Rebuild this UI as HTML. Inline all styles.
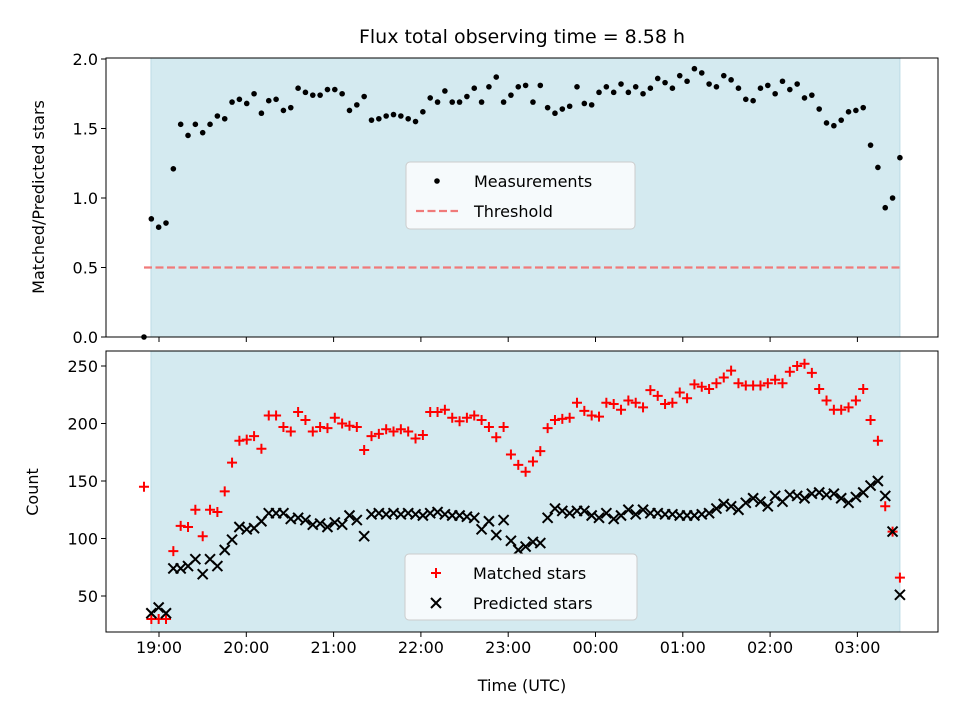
<!DOCTYPE html>
<html><head><meta charset="utf-8"><style>
body{margin:0;background:#fff}
svg{display:block;font-family:"DejaVu Sans","Liberation Sans",sans-serif}
</style></head><body>
<svg id="c" width="960" height="720" viewBox="0 0 960 720"></svg>
<script>
const ratio=[0.0,0.85,0.79,0.82,1.21,1.53,1.45,1.53,1.47,1.53,1.59,1.57,1.69,1.71,1.68,1.75,1.61,1.70,1.71,1.63,1.65,1.79,1.76,1.74,1.74,1.78,1.78,1.75,1.63,1.67,1.73,1.56,1.57,1.59,1.60,1.59,1.57,1.55,1.62,1.72,1.69,1.77,1.69,1.69,1.73,1.79,1.69,1.80,1.87,1.69,1.74,1.80,1.81,1.69,1.81,1.65,1.61,1.64,1.66,1.80,1.68,1.67,1.76,1.80,1.76,1.82,1.76,1.80,1.75,1.79,1.86,1.83,1.79,1.88,1.84,1.93,1.90,1.82,1.80,1.88,1.85,1.79,1.71,1.70,1.79,1.81,1.75,1.84,1.78,1.82,1.72,1.74,1.64,1.54,1.52,1.56,1.62,1.63,1.65,1.38,1.22,0.93,1.00,1.29];
const matched=[145,30,30,30,89,111,110,125,102,125,123,141,166,185,186,189,178,207,207,197,193,210,203,193,197,196,205,200,198,197,177,189,191,195,193,195,193,187,190,210,210,212,205,202,205,207,203,197,188,197,173,164,158,167,176,196,203,204,205,218,211,207,206,218,217,212,220,218,214,229,224,217,218,227,222,234,232,230,235,240,246,235,233,233,233,235,238,235,245,250,252,244,230,220,212,212,214,220,230,203,185,128,106,66];
const predicted=[null,35,40,35,74,74,76,82,69,82,76,90,99,110,108,109,115,122,122,122,117,118,116,112,113,110,114,112,120,116,102,121,122,121,122,121,122,121,120,122,123,121,120,120,119,118,108,115,103,116,98,90,93,97,96,118,126,124,122,124,124,120,118,122,117,120,125,121,125,122,122,121,121,120,120,120,121,122,126,130,128,125,131,135,132,128,137,132,138,137,135,139,140,138,139,135,131,136,140,146,150,137,106,51];
const tickLabels=["19:00","20:00","21:00","22:00","23:00","00:00","01:00","02:00","03:00"];
const ratioTicks=[0.0,0.5,1.0,1.5,2.0];
const countTicks=[50,100,150,200,250];
const threshold=0.5;
const tStart=-0.172, tEnd=8.487, shadeStart=-0.092, shadeEnd=8.487;
const N=ratio.length;
const times=ratio.map((_,i)=>tStart+i*(tEnd-tStart)/(N-1));
const X=t=>159+t*87.3;
const Y1=v=>337-v*139;
const Y2=v=>596-(v-50)*1.15;
const svg=document.getElementById('c');
const NS='http://www.w3.org/2000/svg';
function mk(tag,attrs,parent,name){const e=document.createElementNS(NS,tag);for(const k in attrs)e.setAttribute(k,attrs[k]);


(parent||svg).appendChild(e);return e;}
function txt(s,attrs,name){const e=mk('text',attrs,svg,name);e.textContent=s;return e;}
const A1={x:106,y:58,w:832,h:279}, A2={x:106,y:351,w:832,h:281};
[[A1,'top'],[A2,'bottom']].forEach(([a,n])=>{
 mk('rect',{x:a.x,y:a.y,width:a.w,height:a.h,fill:'#fff'},svg,n+'-axes-bg');
 mk('rect',{x:X(shadeStart),y:a.y,width:X(shadeEnd)-X(shadeStart),height:a.h,fill:'#d4eaf0',stroke:'#bcdbe6'},svg,n+'-observing-window');
});
mk('line',{x1:X(tStart),x2:X(tEnd),y1:Y1(threshold),y2:Y1(threshold),stroke:'#f07a7a','stroke-width':2.2,'stroke-dasharray':'8,3.5'},svg,'threshold-line');
times.forEach((t,i)=>mk('circle',{cx:X(t),cy:Y1(ratio[i]),r:2.8,fill:'#000'},svg,'measurement-point'));
times.forEach((t,i)=>{const x=X(t),y=Y2(matched[i]);mk('path',{d:`M${x-5},${y}H${x+5}M${x},${y-5}V${y+5}`,stroke:'#f00','stroke-width':2},svg,'matched-marker');});
times.forEach((t,i)=>{if(predicted[i]==null)return;const x=X(t),y=Y2(predicted[i]);mk('path',{d:`M${x-5},${y-5}L${x+5},${y+5}M${x-5},${y+5}L${x+5},${y-5}`,stroke:'#000','stroke-width':2},svg,'predicted-marker');});
[[A1,'top'],[A2,'bottom']].forEach(([a,n])=>mk('rect',{x:a.x,y:a.y,width:a.w,height:a.h,fill:'none',stroke:'#000','stroke-width':1},svg,n+'-axes-frame'));
tickLabels.forEach((l,k)=>{const x=X(k);
 mk('line',{x1:x,x2:x,y1:A1.y+A1.h,y2:A1.y+A1.h+5,stroke:'#000'},svg,'top-x-tick');
 mk('line',{x1:x,x2:x,y1:A2.y+A2.h,y2:A2.y+A2.h+5,stroke:'#000'},svg,'x-tick');
 txt(l,{x:x,y:A2.y+A2.h+21,'font-size':16,'text-anchor':'middle'},'x-tick-label');});
ratioTicks.forEach(v=>{const y=Y1(v);mk('line',{x1:A1.x-5,x2:A1.x,y1:y,y2:y,stroke:'#000'},svg,'top-y-tick');
 txt(v.toFixed(1),{x:A1.x-8,y:y+6,'font-size':16,'text-anchor':'end'},'top-y-tick-label');});
countTicks.forEach(v=>{const y=Y2(v);mk('line',{x1:A2.x-5,x2:A2.x,y1:y,y2:y,stroke:'#000'},svg,'bottom-y-tick');
 txt(String(v),{x:A2.x-8,y:y+6,'font-size':16,'text-anchor':'end'},'bottom-y-tick-label');});
txt('Flux total observing time = 8.58 h',{x:522,y:43,'font-size':19,'text-anchor':'middle'},'chart-title');
txt('Time (UTC)',{x:522,y:691,'font-size':16,'text-anchor':'middle'},'x-axis-title');
txt('Matched/Predicted stars',{x:44,y:197,'font-size':16,'text-anchor':'middle',transform:'rotate(-90 44 197)'},'top-y-axis-title');
txt('Count',{x:38,y:492,'font-size':16,'text-anchor':'middle',transform:'rotate(-90 38 492)'},'bottom-y-axis-title');
mk('rect',{x:406,y:162,width:229,height:67,rx:4,fill:'#f6fafc',stroke:'#ccc'},svg,'top-legend');
mk('circle',{cx:437,cy:181,r:2.8,fill:'#000'},svg,'legend-measurements-marker');
txt('Measurements',{x:474,y:187,'font-size':16},'legend-measurements-label');
mk('line',{x1:416,x2:458,y1:211,y2:211,stroke:'#f07a7a','stroke-width':2.2,'stroke-dasharray':'8,3.5'},svg,'legend-threshold-marker');
txt('Threshold',{x:474,y:217,'font-size':16},'legend-threshold-label');
mk('rect',{x:405,y:554,width:232,height:66,rx:4,fill:'#f6fafc',stroke:'#ccc'},svg,'bottom-legend');
mk('path',{d:'M431,573H441M436,568V578',stroke:'#f00','stroke-width':2},svg,'legend-matched-marker');
txt('Matched stars',{x:473,y:579,'font-size':16},'legend-matched-label');
mk('path',{d:'M431,598L441,608M431,608L441,598',stroke:'#000','stroke-width':2},svg,'legend-predicted-marker');
txt('Predicted stars',{x:473,y:609,'font-size':16},'legend-predicted-label');
</script>
</body></html>
